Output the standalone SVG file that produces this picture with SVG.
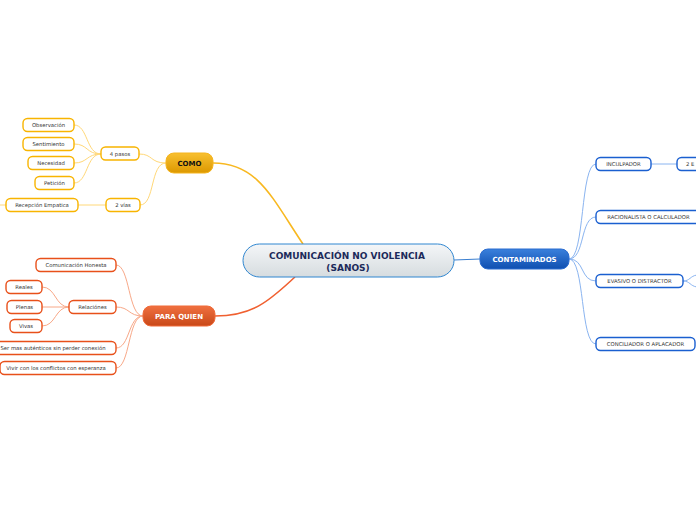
<svg xmlns="http://www.w3.org/2000/svg" width="696" height="520" viewBox="0 0 696 520">
<defs>
<linearGradient id="gC" x1="0" y1="0" x2="0" y2="1"><stop offset="0" stop-color="#f4f6f8"/><stop offset="1" stop-color="#d6dcdf"/></linearGradient>
<linearGradient id="gY" x1="0" y1="0" x2="0" y2="1"><stop offset="0" stop-color="#f8c030"/><stop offset="1" stop-color="#dc9800"/></linearGradient>
<linearGradient id="gO" x1="0" y1="0" x2="0" y2="1"><stop offset="0" stop-color="#f07040"/><stop offset="1" stop-color="#c84818"/></linearGradient>
<linearGradient id="gB" x1="0" y1="0" x2="0" y2="1"><stop offset="0" stop-color="#3a80dc"/><stop offset="1" stop-color="#0f4fb0"/></linearGradient>
</defs>
<style>
text{font-family:"DejaVu Sans",Verdana,sans-serif;text-anchor:middle}
.s{font-size:5.3px;fill:#333}
.m{font-size:7px;font-weight:bold}
.c{fill:none}
.ny{fill:#fff;stroke:#f8b400;stroke-width:1.4}
.no{fill:#fff;stroke:#e8501a;stroke-width:1.4}
.nb{fill:#fff;stroke:#1a5fd0;stroke-width:1.4}
.ey{stroke:#ffd878;stroke-width:1}
.eo{stroke:#f8a888;stroke-width:1}
.eb{stroke:#8ab4f0;stroke-width:1}
</style>
<g id="connectors" class="c">
<path d="M213,163 C258,163 272,198 303,244" stroke="#f8b820" stroke-width="1.6"/>
<path d="M215,316 C255,316 272,298 295,277" stroke="#f06030" stroke-width="1.6"/>
<path d="M454,260 L480,259" stroke="#3a7fd0" stroke-width="1.2"/>
<g class="ey">
<path d="M166,163 C150,163 153,154 139,154"/>
<path d="M166,163 C150,163 155,205 140,205"/>
<path d="M101,154 C86,154 88,125 74,125"/>
<path d="M101,154 C86,154 88,144 74,144"/>
<path d="M101,154 C86,154 88,163 74,163"/>
<path d="M101,154 C86,154 88,183 74,183"/>
<path d="M106,205 L78,205"/>
<path d="M6,205 L0,205"/>
</g>
<g class="eo">
<path d="M143,316 C128,316 130,265 116,265"/>
<path d="M143,316 C128,316 130,307 116,307"/>
<path d="M143,316 C128,316 130,348 116,348"/>
<path d="M143,316 C128,316 130,368 116,368"/>
<path d="M69,307 C55,307 56,287 42,287"/>
<path d="M69,307 L42,307"/>
<path d="M69,307 C55,307 56,326 42,326"/>
</g>
<g class="eb">
<path d="M569,259 C585,259 580,164 596,164"/>
<path d="M569,259 C585,259 580,217 596,217"/>
<path d="M569,259 C585,259 580,281 596,281"/>
<path d="M569,259 C585,259 580,344 596,344"/>
<path d="M651,164 L677,164"/>
<path d="M683,281 C690,281 690,276 697,275"/>
<path d="M683,281 C690,281 690,286 697,287"/>
</g>
</g>
<g id="central">
<rect x="243" y="244" width="211" height="33" rx="16.5" fill="url(#gC)" stroke="#2f86d0" stroke-width="1"/>
<text x="347" y="259" style="font-size:9px;font-weight:bold;fill:#1c2a5a">COMUNICACIÓN NO VIOLENCIA</text>
<text x="348" y="270.5" style="font-size:9px;font-weight:bold;fill:#1c2a5a">(SANOS)</text>
</g>
<g id="como">
<rect x="166" y="153" width="47" height="20" rx="8" fill="url(#gY)" stroke="#f5b41e" stroke-width="1"/>
<text x="189.5" y="165.5" class="m" fill="#111">COMO</text>
</g>
<g id="paraquien">
<rect x="143" y="306" width="72" height="20" rx="8" fill="url(#gO)" stroke="#f06a38" stroke-width="1"/>
<text x="179" y="318.5" class="m" fill="#fff">PARA QUIEN</text>
</g>
<g id="contaminados">
<rect x="480" y="249" width="89" height="20" rx="8" fill="url(#gB)" stroke="#2a6cd0" stroke-width="1"/>
<text x="524.5" y="261.5" class="m" fill="#fff">CONTAMINADOS</text>
</g>
<g id="n4pasos"><rect x="101" y="147" width="38" height="13" rx="4.5" class="ny"/><text x="120" y="155.7" class="s">4 pasos</text></g>
<g id="n2vias"><rect x="106" y="198.5" width="34" height="13" rx="4.5" class="ny"/><text x="123" y="207.2" class="s">2 vías</text></g>
<g id="nobs"><rect x="23" y="118.5" width="51" height="13" rx="4.5" class="ny"/><text x="48.5" y="127.2" class="s">Observación</text></g>
<g id="nsen"><rect x="23" y="137.5" width="51" height="13" rx="4.5" class="ny"/><text x="48.5" y="146.2" class="s">Sentimiento</text></g>
<g id="nnec"><rect x="28" y="156.5" width="46" height="13" rx="4.5" class="ny"/><text x="51" y="165.2" class="s">Necesidad</text></g>
<g id="npet"><rect x="35" y="176.5" width="39" height="13" rx="4.5" class="ny"/><text x="54.5" y="185.2" class="s">Petición</text></g>
<g id="nrec"><rect x="6" y="198.5" width="72" height="13" rx="4.5" class="ny"/><text x="42" y="207.2" class="s">Recepción Empatica</text></g>
<g id="ncom"><rect x="36" y="258.5" width="80" height="13" rx="4.5" class="no"/><text x="76" y="267.2" class="s">Comunicación Honesta</text></g>
<g id="nrel"><rect x="69" y="300.5" width="47" height="13" rx="4.5" class="no"/><text x="92.5" y="309.2" class="s">Relaciónes</text></g>
<g id="nrea"><rect x="6" y="280.5" width="36" height="13" rx="4.5" class="no"/><text x="24" y="289.2" class="s">Reales</text></g>
<g id="nple"><rect x="7" y="300.5" width="35" height="13" rx="4.5" class="no"/><text x="24.5" y="309.2" class="s">Plenas</text></g>
<g id="nviv"><rect x="10" y="319.5" width="32" height="13" rx="4.5" class="no"/><text x="26" y="328.2" class="s">Vivas</text></g>
<g id="nser"><rect x="-6" y="341.5" width="122" height="13" rx="4.5" class="no"/><text x="53" y="350.2" class="s">Ser mas auténticos sin perder conexión</text></g>
<g id="nviv2"><rect x="0" y="361.5" width="116" height="13" rx="4.5" class="no"/><text x="56" y="370.2" class="s">Vivir con los conflictos con esperanza</text></g>
<g id="ninc"><rect x="596" y="157.5" width="55" height="13" rx="4.5" class="nb"/><text x="623.5" y="166.2" class="s">INCULPADOR</text></g>
<g id="n2e"><rect x="677" y="157.5" width="30" height="13" rx="4.5" class="nb"/><text x="686" y="166.2" class="s" style="text-anchor:start">2 E</text></g>
<g id="nrac"><rect x="596" y="210.5" width="104" height="13" rx="4.5" class="nb"/><text x="648.5" y="219.2" class="s">RACIONALISTA O CALCULADOR</text></g>
<g id="neva"><rect x="596" y="274.5" width="87" height="13" rx="4.5" class="nb"/><text x="639.5" y="283.2" class="s">EVASIVO O DISTRACTOR</text></g>
<g id="ncon"><rect x="596" y="337.5" width="99" height="13" rx="4.5" class="nb"/><text x="645.5" y="346.2" class="s">CONCILIADOR O APLACADOR</text></g>
</svg>
